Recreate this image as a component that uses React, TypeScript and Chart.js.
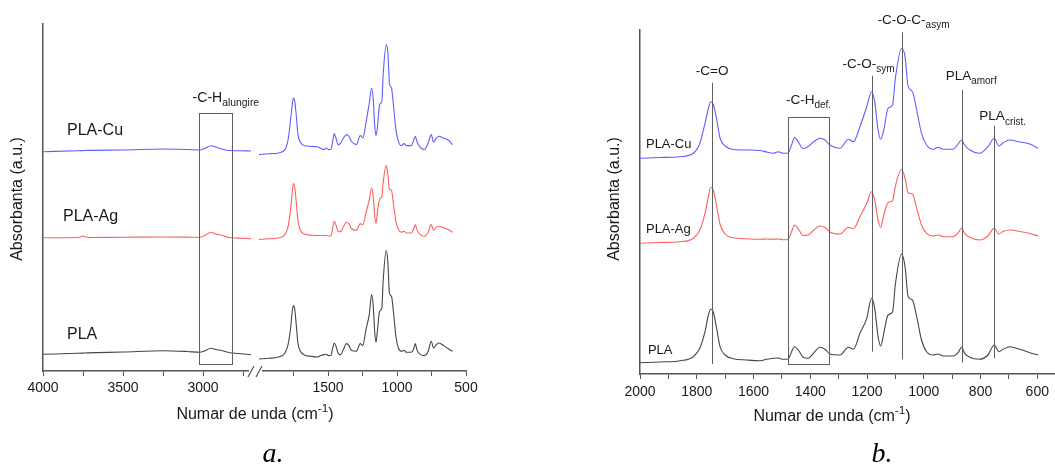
import { useEffect, useRef } from "react";
import { Chart, registerables } from "chart.js";

Chart.register(...registerables);

// ---------- data (absorbance in stacked a.u.) ----------
// fingerprint region wavenumbers (cm-1)
const WN_LOW = [
  2000, 1930, 1859, 1812, 1789, 1771, 1759, 1751, 1742, 1730, 1718, 1700, 1671, 1624, 1577, 1554, 1530,
  1513, 1495, 1478, 1466, 1455, 1442, 1425, 1407, 1389, 1366, 1348, 1331, 1295, 1266, 1248, 1225, 1201,
  1184, 1173, 1161, 1152, 1141, 1126, 1110, 1100, 1078, 1066, 1055, 1040, 1025, 1008, 990, 967, 949, 932,
  897, 879, 867, 856, 838, 803, 774, 752, 735, 721, 697, 661, 626, 597,
];
const PLA_LOW = [
  0.113, 0.12, 0.133, 0.173, 0.26, 0.423, 0.59, 0.647, 0.623, 0.457, 0.273, 0.19, 0.153, 0.14, 0.133, 0.147,
  0.157, 0.16, 0.147, 0.15, 0.223, 0.273, 0.24, 0.167, 0.157, 0.207, 0.267, 0.247, 0.2, 0.19, 0.267, 0.247,
  0.407, 0.557, 0.757, 0.657, 0.373, 0.28, 0.407, 0.59, 0.623, 0.9, 1.2, 1.073, 0.773, 0.74, 0.573, 0.34,
  0.223, 0.19, 0.2, 0.18, 0.18, 0.213, 0.267, 0.207, 0.167, 0.147, 0.19, 0.29, 0.223, 0.247, 0.273, 0.247,
  0.213, 0.19,
];
const AG_LOW = [
  1.307, 1.315, 1.323, 1.357, 1.44, 1.607, 1.773, 1.867, 1.84, 1.68, 1.5, 1.4, 1.362, 1.352, 1.347, 1.35,
  1.347, 1.35, 1.343, 1.345, 1.423, 1.49, 1.45, 1.385, 1.39, 1.435, 1.48, 1.465, 1.42, 1.4, 1.467, 1.453,
  1.573, 1.707, 1.823, 1.74, 1.54, 1.467, 1.59, 1.713, 1.733, 1.88, 2.047, 1.957, 1.813, 1.8, 1.657, 1.49,
  1.407, 1.38, 1.39, 1.373, 1.373, 1.413, 1.457, 1.407, 1.367, 1.34, 1.38, 1.457, 1.4, 1.425, 1.44, 1.425,
  1.405, 1.38,
];
const CU_LOW = [
  2.157, 2.165, 2.173, 2.207, 2.307, 2.507, 2.657, 2.723, 2.7, 2.55, 2.36, 2.28, 2.245, 2.24, 2.235, 2.22,
  2.207, 2.223, 2.207, 2.21, 2.29, 2.367, 2.32, 2.255, 2.275, 2.32, 2.357, 2.34, 2.29, 2.257, 2.347, 2.323,
  2.473, 2.673, 2.823, 2.723, 2.44, 2.347, 2.44, 2.657, 2.69, 2.96, 3.257, 3.173, 2.873, 2.823, 2.64, 2.407,
  2.29, 2.247, 2.267, 2.247, 2.247, 2.3, 2.34, 2.29, 2.24, 2.207, 2.273, 2.357, 2.28, 2.31, 2.34, 2.32,
  2.3, 2.257,
];
// high-wavenumber region (panel a only)
const WN_HIGH = [4000, 3780, 3750, 3720, 3500, 3250, 3100, 3020, 2990, 2950, 2920, 2880, 2840, 2780, 2700];
const PLA_HIGH = [0.16, 0.17, 0.172, 0.174, 0.183, 0.196, 0.188, 0.18, 0.193, 0.22, 0.208, 0.196, 0.178, 0.168, 0.156];
const AG_HIGH = [1.326, 1.328, 1.343, 1.328, 1.33, 1.333, 1.332, 1.33, 1.348, 1.38, 1.363, 1.348, 1.328, 1.322, 1.316];
const CU_HIGH = [2.186, 2.195, 2.197, 2.199, 2.203, 2.213, 2.208, 2.203, 2.218, 2.246, 2.233, 2.213, 2.198, 2.196, 2.193];

const SERIES_NAMES = ["PLA-Cu", "PLA-Ag", "PLA"];

// panel a axis ticks
const TICKS_A = [4000, 3750, 3500, 3250, 3000, 2750, 1750, 1500, 1250, 1000, 750, 500];
const TICK_LABELS_A = ["4000", "", "3500", "", "3000", "", "", "1500", "", "1000", "", "500"];
// panel b axis ticks
const TICKS_B = [2000, 1900, 1800, 1700, 1600, 1500, 1400, 1300, 1200, 1100, 1000, 900, 800, 700, 600];
const TICK_LABELS_B = ["2000", "", "1800", "", "1600", "", "1400", "", "1200", "", "1000", "", "800", "", "600"];

// panel a annotations
const NAME_WN_A = [3850, 3875, 3850];
const NAME_Y_A = [2.393, 1.533, 0.353];
const BOX_WN_A = [3025, 2819];
const BOX_Y = [0.063, 2.573];
const BOX_LABEL_A = ["-C-H", "alungire"];
const BOX_LABEL_POS_A = [2857, 2.72];

// panel b annotations
const PEAK_WN_B = [1746, 1184, 1078, 865, 752];
const PEAK_TOP_B = [2.913, 2.983, 3.417, 2.84, 2.483];
const PEAK_BOTTOM_B = [0.1, 0.223, 0.147, 0.113, 0.157];
const PEAK_LABELS_B = [["-C=O", ""], ["-C-O-", "sym"], ["-C-O-C-", "asym"], ["PLA", "amorf"], ["PLA", "crist."]];
const PEAK_LABEL_WN_B = [1746, 1195, 1036, 833, 722];
const PEAK_LABEL_Y_B = [3.023, 3.1, 3.54, 2.98, 2.573];
const BOX_WN_B = [1480, 1333];
const BOX_Y_B = [0.097, 2.573];
const BOX_LABEL_B = ["-C-H", "def."];
const BOX_LABEL_POS_B = [1406, 2.74];
const NAME_WN_B = [1979, 1979, 1972];
const NAME_Y_B = [2.3, 1.45, 0.24];

// ---------- styles ----------
const SANS = '"Liberation Sans", Arial, sans-serif';
const SERIF = '"Liberation Serif", "Times New Roman", serif';
const COLORS = ["rgb(95,95,255)", "rgb(255,95,95)", "rgb(70,70,70)"];
const AXIS_COLOR = "rgb(85,85,85)";
const ANNOT_COLOR = "rgb(95,95,95)";
const TEXT_COLOR = "#1a1a1a";

// broken axis mapping for panel a
const uA = (w: number) => (w >= 2500 ? 4000 - w : 1350 + (2000 - w) * 0.8625);

type Part = { t: string; k?: "sub" | "sup" };

function rich(ctx: CanvasRenderingContext2D, parts: Part[], x: number, y: number, size: number, align: "center" | "left") {
  const main = `${size}px ${SANS}`;
  const small = `${Math.round(size * 0.74 * 10) / 10}px ${SANS}`;
  const widths = parts.map((p) => {
    ctx.font = p.k ? small : main;
    return ctx.measureText(p.t).width;
  });
  const total = widths.reduce((a, b) => a + b, 0);
  let cx = align === "center" ? x - total / 2 : x;
  ctx.textAlign = "left";
  ctx.textBaseline = "middle";
  ctx.fillStyle = TEXT_COLOR;
  parts.forEach((p, i) => {
    ctx.font = p.k ? small : main;
    const dy = p.k === "sub" ? size * 0.38 : p.k === "sup" ? -size * 0.36 : 0;
    ctx.fillText(p.t, cx, y + dy);
    cx += widths[i];
  });
}

function vTitle(ctx: CanvasRenderingContext2D, text: string, x: number, y: number, size: number) {
  ctx.save();
  ctx.translate(x, y);
  ctx.rotate(-Math.PI / 2);
  ctx.font = `${size}px ${SANS}`;
  ctx.fillStyle = TEXT_COLOR;
  ctx.textAlign = "center";
  ctx.textBaseline = "middle";
  ctx.fillText(text, 0, 0);
  ctx.restore();
}

function caption(ctx: CanvasRenderingContext2D, text: string, x: number, y: number) {
  ctx.font = `italic 28px ${SERIF}`;
  ctx.fillStyle = "#000";
  ctx.textAlign = "center";
  ctx.textBaseline = "alphabetic";
  ctx.fillText(text, x, y);
}

const xTitleParts: Part[] = [{ t: "Numar de unda (cm" }, { t: "-1", k: "sup" }, { t: ")" }];

const pluginA = {
  id: "annotA",
  afterDraw(chart: any) {
    const ctx: CanvasRenderingContext2D = chart.ctx;
    const xs = chart.scales.x;
    const ys = chart.scales.y;
    const X = (w: number) => xs.getPixelForValue(uA(w));
    const Y = (v: number) => ys.getPixelForValue(v);
    ctx.save();
    // box
    ctx.strokeStyle = ANNOT_COLOR;
    ctx.lineWidth = 1;
    const bx1 = Math.round(X(BOX_WN_A[0])) + 0.5;
    const bx2 = Math.round(X(BOX_WN_A[1])) + 0.5;
    const by1 = Math.round(Y(BOX_Y[1])) + 0.5;
    const by2 = Math.round(Y(BOX_Y[0])) + 0.5;
    ctx.strokeRect(bx1, by1, bx2 - bx1, by2 - by1);
    rich(ctx, [{ t: BOX_LABEL_A[0] }, { t: BOX_LABEL_A[1], k: "sub" }], X(BOX_LABEL_POS_A[0]), Y(BOX_LABEL_POS_A[1]), 14, "center");
    // series names
    SERIES_NAMES.forEach((n, i) => rich(ctx, [{ t: n }], X(NAME_WN_A[i]), Y(NAME_Y_A[i]), 16, "left"));
    // axis break
    const axisY = chart.chartArea.bottom;
    const bxm = xs.getPixelForValue(1325);
    ctx.fillStyle = "#fff";
    ctx.fillRect(bxm - 6, axisY - 3, 13, 6);
    ctx.strokeStyle = AXIS_COLOR;
    ctx.lineWidth = 1.2;
    ctx.beginPath();
    ctx.moveTo(bxm - 7, axisY + 6);
    ctx.lineTo(bxm - 1, axisY - 5);
    ctx.moveTo(bxm + 1, axisY + 6);
    ctx.lineTo(bxm + 7, axisY - 5);
    ctx.stroke();
    // titles
    rich(ctx, xTitleParts, 255, 415, 16, "center");
    vTitle(ctx, "Absorbanta (a.u.)", 18, 199, 16);
    caption(ctx, "a.", 273, 462);
    ctx.restore();
  },
};

const pluginB = {
  id: "annotB",
  afterDraw(chart: any) {
    const ctx: CanvasRenderingContext2D = chart.ctx;
    const xs = chart.scales.x;
    const ys = chart.scales.y;
    const X = (w: number) => xs.getPixelForValue(w);
    const Y = (v: number) => ys.getPixelForValue(v);
    ctx.save();
    ctx.strokeStyle = ANNOT_COLOR;
    ctx.lineWidth = 1;
    ctx.beginPath();
    PEAK_WN_B.forEach((w, i) => {
      const px = Math.round(X(w)) + 0.5;
      ctx.moveTo(px, Y(PEAK_TOP_B[i]));
      ctx.lineTo(px, Y(PEAK_BOTTOM_B[i]));
    });
    ctx.stroke();
    const bx1 = Math.round(X(BOX_WN_B[0])) + 0.5;
    const bx2 = Math.round(X(BOX_WN_B[1])) + 0.5;
    const by1 = Math.round(Y(BOX_Y_B[1])) + 0.5;
    const by2 = Math.round(Y(BOX_Y_B[0])) + 0.5;
    ctx.strokeRect(bx1, by1, bx2 - bx1, by2 - by1);
    PEAK_LABELS_B.forEach((lab, i) => {
      const parts: Part[] = [{ t: lab[0] }];
      if (lab[1]) parts.push({ t: lab[1], k: "sub" });
      rich(ctx, parts, X(PEAK_LABEL_WN_B[i]), Y(PEAK_LABEL_Y_B[i]), 13.5, "center");
    });
    rich(ctx, [{ t: BOX_LABEL_B[0] }, { t: BOX_LABEL_B[1], k: "sub" }], X(BOX_LABEL_POS_B[0]), Y(BOX_LABEL_POS_B[1]), 13.5, "center");
    SERIES_NAMES.forEach((n, i) => rich(ctx, [{ t: n }], X(NAME_WN_B[i]), Y(NAME_Y_B[i]), 13, "left"));
    rich(ctx, xTitleParts, 242, 417, 16, "center");
    vTitle(ctx, "Absorbanta (a.u.)", 25, 199, 16);
    caption(ctx, "b.", 292, 462);
    ctx.restore();
  },
};

const lineDs = (data: { x: number; y: number }[], color: string) => ({
  data,
  borderColor: color,
  borderWidth: 1.1,
  pointRadius: 0,
  fill: false,
  cubicInterpolationMode: "monotone" as const,
});

const lows = [CU_LOW, AG_LOW, PLA_LOW];
const highs = [CU_HIGH, AG_HIGH, PLA_HIGH];

function axisX(min: number, max: number, reverse: boolean, ticks: number[], labels: string[], height: number, pad: number) {
  return {
    type: "linear" as const,
    min,
    max,
    reverse,
    grid: { display: true, drawOnChartArea: false, drawTicks: true, tickLength: 5, tickColor: AXIS_COLOR, tickWidth: 1 },
    border: { display: true, color: AXIS_COLOR, width: 1.5 },
    ticks: {
      color: TEXT_COLOR,
      font: { family: SANS, size: 14 },
      padding: pad,
      autoSkip: false,
      maxRotation: 0,
      callback: (_v: any, i: number) => labels[i],
    },
    afterBuildTicks: (s: any) => {
      s.ticks = ticks.map((t) => ({ value: t }));
    },
    afterFit: (s: any) => {
      s.height = height;
      s.paddingLeft = 0;
      s.paddingRight = 0;
    },
  };
}

function axisY(min: number, max: number, width: number) {
  return {
    type: "linear" as const,
    min,
    max,
    grid: { display: false },
    border: { display: true, color: AXIS_COLOR, width: 1.5 },
    ticks: { display: false },
    afterFit: (s: any) => {
      s.width = width;
    },
  };
}

export default function App() {
  const refA = useRef<HTMLCanvasElement>(null);
  const refB = useRef<HTMLCanvasElement>(null);

  useEffect(() => {
    const dsA: any[] = [];
    lows.forEach((vals, s) => {
      dsA.push(lineDs(WN_HIGH.map((w, i) => ({ x: uA(w), y: highs[s][i] })), COLORS[s]));
      dsA.push(lineDs(WN_LOW.map((w, i) => ({ x: uA(w), y: vals[i] })), COLORS[s]));
    });
    const chartA = new Chart(refA.current!, {
      type: "line",
      data: { datasets: dsA },
      options: {
        animation: false,
        responsive: false,
        events: [],
        layout: { padding: { left: 0, top: 24, right: 64, bottom: 0 } },
        plugins: { legend: { display: false }, tooltip: { enabled: false } },
        scales: {
          x: axisX(0, uA(500), false, TICKS_A.map(uA), TICK_LABELS_A, 95, 4),
          y: axisY(-0.007, 3.463, 43),
        },
      } as any,
      plugins: [pluginA],
    });

    const dsB = lows.map((vals, s) => lineDs(WN_LOW.map((w, i) => ({ x: w, y: vals[i] })), COLORS[s]));
    const chartB = new Chart(refB.current!, {
      type: "line",
      data: { datasets: dsB },
      options: {
        animation: false,
        responsive: false,
        events: [],
        layout: { padding: { left: 0, top: 30, right: 0, bottom: 0 } },
        plugins: { legend: { display: false }, tooltip: { enabled: false } },
        scales: {
          x: axisX(537.6, 2000, true, TICKS_B, TICK_LABELS_B, 92, 5),
          y: axisY(0, 3.44, 50),
        },
      } as any,
      plugins: [pluginB],
    });

    return () => {
      chartA.destroy();
      chartB.destroy();
    };
  }, []);

  return (
    <div style={{ position: "fixed", left: 0, top: 0, width: 1055, height: 466, background: "#fff" }}>
      <canvas ref={refA} width={530} height={466} style={{ position: "absolute", left: 0, top: 0, width: 530, height: 466 }} />
      <canvas ref={refB} width={465} height={466} style={{ position: "absolute", left: 590, top: 0, width: 465, height: 466 }} />
    </div>
  );
}
